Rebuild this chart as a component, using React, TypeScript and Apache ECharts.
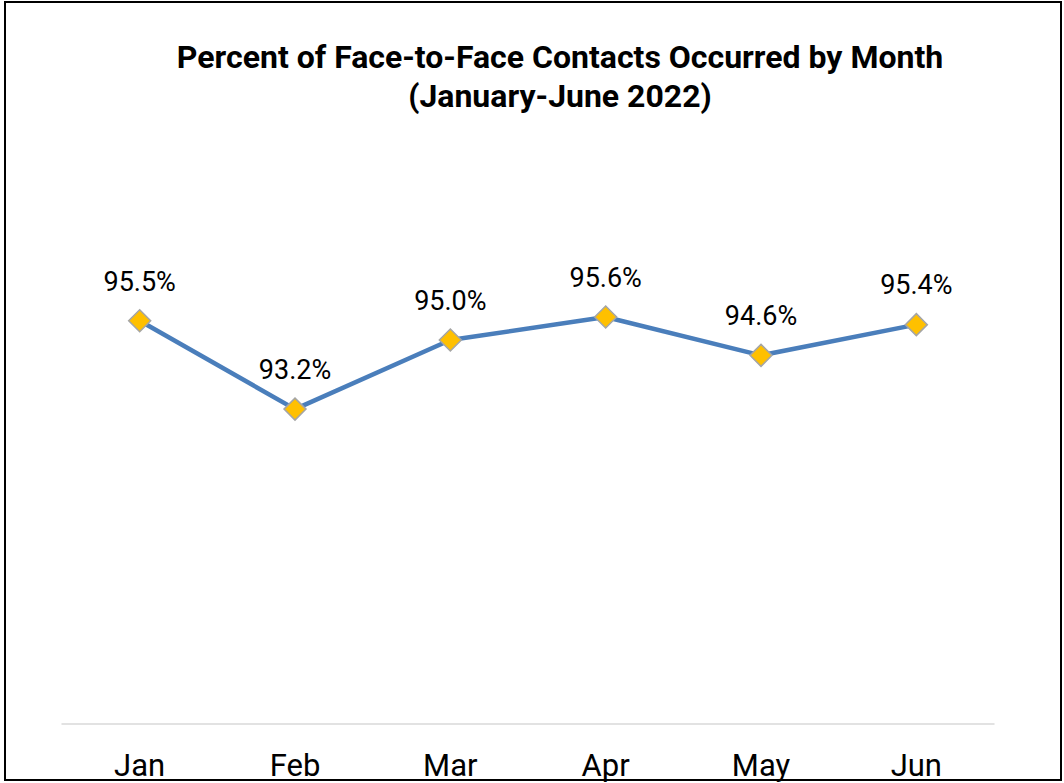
import React, { useEffect, useRef } from "react";
import * as echarts from "echarts";

const months = ["Jan", "Feb", "Mar", "Apr", "May", "Jun"];
const percentValues = [95.5, 93.2, 95.0, 95.6, 94.6, 95.4];
const titleLines = ["Percent of Face-to-Face Contacts Occurred by Month", "(January-June 2022)"];

export default function App() {
  const ref = useRef<HTMLDivElement>(null);
  useEffect(() => {
    document.body.style.margin = "0";
    const chart = echarts.init(ref.current!, null, { renderer: "svg" });
    chart.setOption({
      animation: false,
      backgroundColor: "#ffffff",
      title: {
        text: titleLines.join("\n"),
        left: 555,
        top: 32,
        textAlign: "center",
        textStyle: {
          fontFamily: "Roboto",
          fontWeight: "bold",
          fontSize: 32,
          lineHeight: 39,
          color: "#000000",
        },
      },
      graphic: [
        {
          type: "rect",
          shape: { x: 5, y: 2, width: 1056, height: 778 },
          style: { fill: "none", stroke: "#000000", lineWidth: 2 },
          z: 100,
        },
      ],
      grid: { left: 62, right: 70, top: 148, bottom: 59 },
      xAxis: {
        type: "category",
        data: months,
        boundaryGap: true,
        axisLine: { show: true, lineStyle: { color: "#d9d9d9", width: 1.5 } },
        axisTick: { show: false },
        axisLabel: {
          fontFamily: "Roboto",
          fontSize: 31,
          color: "#000000",
          margin: 26,
        },
      },
      yAxis: {
        type: "value",
        min: 85,
        max: 100,
        show: false,
        splitLine: { show: false },
      },
      series: [
        {
          type: "line",
          data: percentValues,
          symbol: "diamond",
          symbolSize: 22,
          lineStyle: { color: "#4a7ebb", width: 4.5 },
          itemStyle: { color: "#ffc000", borderColor: "#a5a5a5", borderWidth: 1.5 },
          label: {
            show: true,
            position: "top",
            distance: 14,
            fontFamily: "Roboto",
            fontSize: 27,
            color: "#000000",
            formatter: (p: any) => p.value.toFixed(1) + "%",
          },
        },
      ],
    });
    return () => chart.dispose();
  }, []);
  return <div ref={ref} style={{ width: 1064, height: 783 }} />;
}
